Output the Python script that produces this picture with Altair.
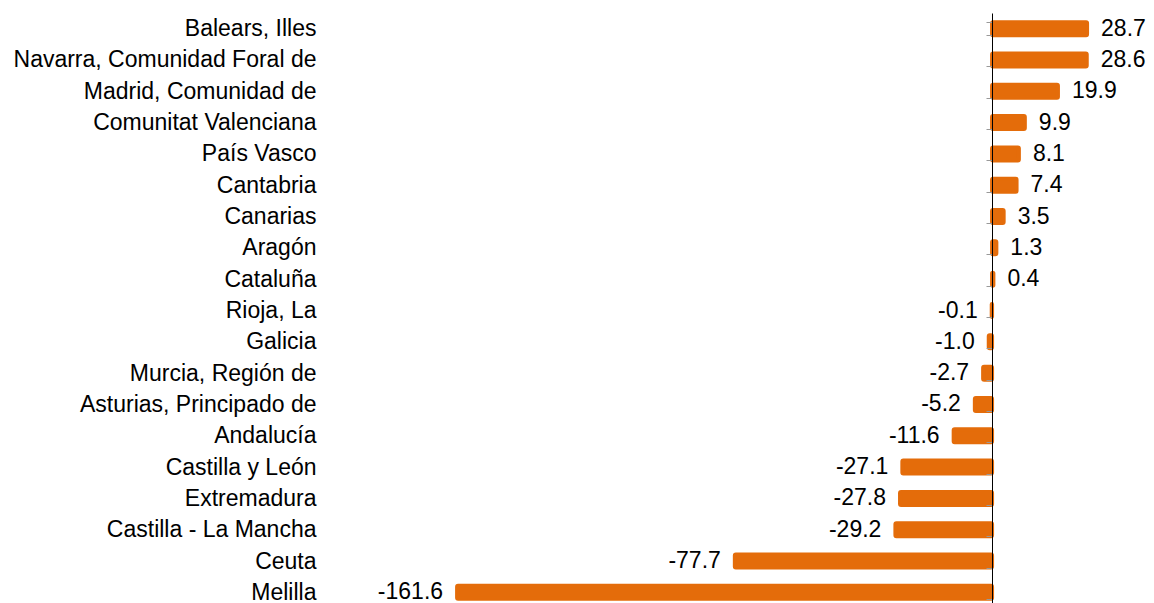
import altair as alt
import pandas as pd

regions = [
    "Balears, Illes",
    "Navarra, Comunidad Foral de",
    "Madrid, Comunidad de",
    "Comunitat Valenciana",
    "País Vasco",
    "Cantabria",
    "Canarias",
    "Aragón",
    "Cataluña",
    "Rioja, La",
    "Galicia",
    "Murcia, Región de",
    "Asturias, Principado de",
    "Andalucía",
    "Castilla y León",
    "Extremadura",
    "Castilla - La Mancha",
    "Ceuta",
    "Melilla",
]
values = [28.7, 28.6, 19.9, 9.9, 8.1, 7.4, 3.5, 1.3, 0.4, -0.1, -1.0, -2.7,
          -5.2, -11.6, -27.1, -27.8, -29.2, -77.7, -161.6]

df = pd.DataFrame({"region": regions, "value": values})
df["label"] = [f"{v:.1f}" for v in values]

FONT = "Liberation Sans"
ORANGE = "#E46C0A"

x_scale = alt.Scale(domain=[-201.5, 46.5], nice=False, zero=False)
y_enc = alt.Y(
    "region:N",
    sort=None,
    scale=alt.Scale(paddingInner=0.585, paddingOuter=0.2925),
    axis=alt.Axis(
        title=None,
        offset=-667,
        labelPadding=670,
        tickSize=6,
        tickBand="extent",
        tickColor="#999999",
        domainColor="#000000",
        domainWidth=1,
        labelFontSize=23,
        labelFont=FONT,
        labelColor="#000000",
        labelLimit=0,
        grid=False,
        zindex=1,
    ),
)

base = alt.Chart(df)

bars = base.mark_bar(
    color=ORANGE, stroke=ORANGE, strokeWidth=4, strokeJoin="round", cornerRadius=1
).encode(
    x=alt.X("value:Q", scale=x_scale, axis=None),
    x2=alt.datum(0),
    y=y_enc,
)

pos_text = base.transform_filter("datum.value >= 0").mark_text(
    align="left", baseline="middle", dx=14, fontSize=23, font=FONT, color="#000000"
).encode(
    x=alt.X("value:Q", scale=x_scale, axis=None),
    y=alt.Y("region:N", sort=None),
    text="label:N",
)

neg_text = base.transform_filter("datum.value < 0").mark_text(
    align="right", baseline="middle", dx=-14, fontSize=23, font=FONT, color="#000000"
).encode(
    x=alt.X("value:Q", scale=x_scale, axis=None),
    y=alt.Y("region:N", sort=None),
    text="label:N",
)

chart = (
    alt.layer(bars, pos_text, neg_text)
    .properties(
        width=821,
        height=595,
        autosize=alt.AutoSizeParams(type="none"),
        padding={"left": 317, "top": 5, "right": 0, "bottom": 0},
    )
    .configure_view(stroke=None, strokeWidth=0)
)

chart.save("out.html", embed_options={"renderer": "svg", "actions": False})
